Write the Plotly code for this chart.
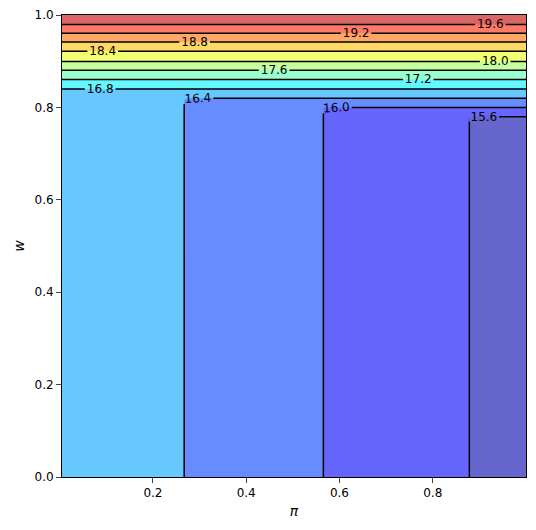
import plotly.graph_objects as go

# grid
x_vals = [0.005, 0.262, 0.272, 0.558, 0.568, 0.871, 0.881, 1.0]
x_base = [16.5, 16.5, 16.3, 16.3, 15.9, 15.9, 15.5, 15.5]
y_vals = [0.0, 0.775, 0.785, 0.795, 0.805, 0.815, 0.825, 0.835, 0.845,
          0.861, 0.881, 0.900, 0.922, 0.942, 0.961, 0.980, 1.0]
y_base = [15.0, 15.0, 15.7, 15.9, 16.1, 16.3, 16.5, 16.7, 16.9,
          17.21, 17.61, 18.01, 18.41, 18.81, 19.21, 19.61, 20.0]

z = [[max(a, b) for a in x_base] for b in y_base]

band_colors = ["#6666cc", "#6666ff", "#668cff", "#66c8ff", "#66f6ff", "#99ffcc",
               "#c6ff9f", "#f2ff73", "#ffd966", "#ffa866", "#ff7a66", "#db6666"]
n = len(band_colors)
cscale = []
for i, c in enumerate(band_colors):
    cscale.append([i / n, c])
    cscale.append([(i + 1) / n, c])

fig = go.Figure(go.Contour(
    x=x_vals, y=y_vals, z=z,
    zmin=15.2, zmax=20.0,
    colorscale=cscale, showscale=False,
    contours=dict(start=15.6, end=19.6, size=0.4, coloring="fill",
                  showlabels=True, labelformat=".1f",
                  labelfont=dict(size=12, color="black")),
    line=dict(color="black", width=1.5, smoothing=0),
    hoverinfo="skip",
))
# page has an 8px body margin, so the figure is 8px smaller
fig.update_layout(
    width=528, height=522,
    margin=dict(l=54, r=10, t=7, b=53, autoexpand=False),
    paper_bgcolor="white", plot_bgcolor="white",
    font=dict(family="DejaVu Sans", size=12, color="black"),
)
axis = dict(showline=True, linecolor="black", mirror=True, ticks="outside",
            showgrid=False, zeroline=False)
fig.update_xaxes(range=[0.005, 1.0], tickvals=[0.2, 0.4, 0.6, 0.8],
                 title=dict(text="<i>π</i>", standoff=6), **axis)
fig.update_yaxes(range=[0, 1], tickvals=[0, 0.2, 0.4, 0.6, 0.8, 1.0], tickformat=".1f",
                 title=dict(text="<i>w</i>", standoff=6), **axis)
fig.write_html("out.html")
